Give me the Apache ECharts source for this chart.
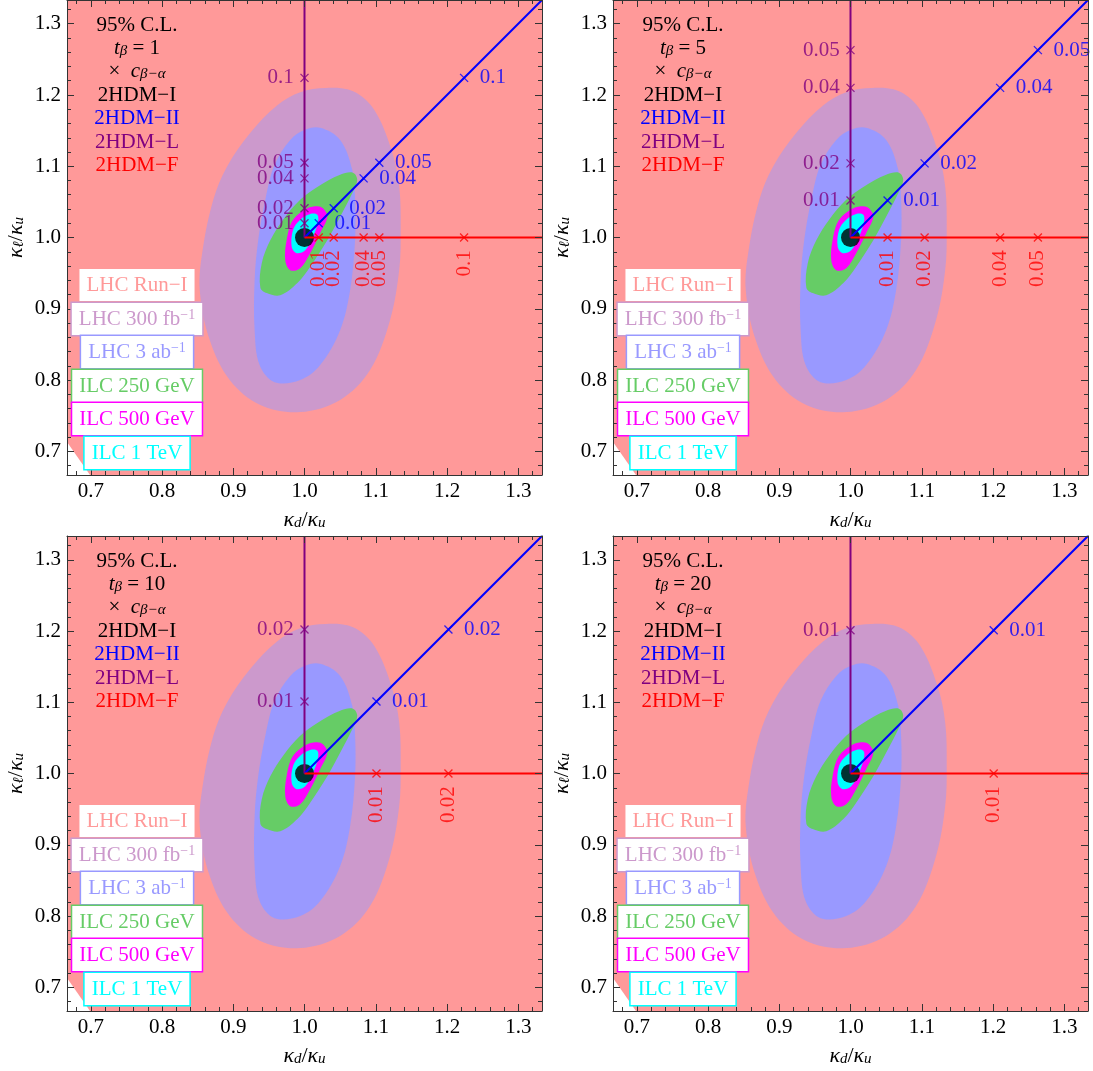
<!DOCTYPE html>
<html>
<head>
<meta charset="utf-8">
<script src="https://cdn.jsdelivr.net/npm/echarts@6/dist/echarts.min.js"></script>
<style>
html,body{margin:0;padding:0;background:#fff;}
#chart{width:1093px;height:1071px;}
</style>
</head>
<body>
<div id="chart"></div>
<script>
// ---------------- data ----------------
const tanBetaValues = [1, 5, 10, 20];

// c_{beta-alpha} marker labels and the coupling ratio read at each marker
const cLabels_tb1 = ['0.01', '0.02', '0.04', '0.05', '0.1'];
const ratios_tb1 = [1.020, 1.041, 1.083, 1.105, 1.224];
const cLabels_tb5 = ['0.01', '0.02', '0.04', '0.05'];
const ratios_tb5 = [1.052, 1.104, 1.210, 1.263];
const cLabels_tb10 = ['0.01', '0.02'];
const ratios_tb10 = [1.101, 1.202];
const cLabels_tb20 = ['0.01'];
const ratios_tb20 = [1.201];

// model lines (from the SM point)
const lineTypeL = [[1.0, 1.0], [1.0, 1.3333]];
const lineTypeII = [[1.0, 1.0], [1.3333, 1.3333]];
const lineTypeF = [[1.0, 1.0], [1.3333, 1.0]];
const smPoint = [[1.0, 1.0]];

// 95% C.L. regions (kappa_d/kappa_u, kappa_l/kappa_u)
const regionLHCRun1 = [[0.6667, 0.713], [0.6667, 1.3333], [1.3333, 1.3333], [1.3333, 0.6667], [0.699, 0.6667]];
const regionLHC300 = [[1.03, 1.21], [1.069, 1.205], [1.098, 1.179], [1.122, 1.123], [1.133, 1.071], [1.135, 1.01], [1.133, 0.955], [1.12, 0.884], [1.092, 0.814], [1.05, 0.772], [0.994, 0.755], [0.938, 0.765], [0.895, 0.80], [0.867, 0.856], [0.853, 0.926], [0.857, 0.982], [0.872, 1.053], [0.891, 1.099], [0.924, 1.147], [0.961, 1.185], [0.994, 1.204]];
const regionLHC3000 = [[1.022, 1.154], [1.05, 1.137], [1.067, 1.095], [1.071, 1.053], [1.071, 0.997], [1.064, 0.926], [1.05, 0.87], [1.022, 0.821], [0.994, 0.80], [0.958, 0.797], [0.937, 0.821], [0.93, 0.87], [0.93, 0.94], [0.935, 0.996], [0.945, 1.053], [0.958, 1.102], [0.98, 1.137], [1.0, 1.151]];
const regionILC250 = [[1.068, 1.091], [1.074, 1.081], [1.067, 1.062], [1.05, 1.029], [1.032, 0.996], [1.008, 0.959], [0.99, 0.936], [0.966, 0.919], [0.947, 0.922], [0.938, 0.93], [0.94, 0.964], [0.952, 0.996], [0.97, 1.025], [0.994, 1.053], [1.018, 1.071], [1.05, 1.088]];
const regionILC500 = [[1.026, 1.041], [1.032, 1.029], [1.022, 1.006], [1.008, 0.978], [0.994, 0.957], [0.98, 0.954], [0.973, 0.968], [0.975, 0.997], [0.984, 1.025], [1.004, 1.041], [1.018, 1.044]];
const regionILC1000 = [[1.018, 1.032], [1.019, 1.022], [1.012, 1.001], [1.001, 0.982], [0.989, 0.978], [0.982, 0.987], [0.984, 1.011], [0.994, 1.025], [1.008, 1.033]];

const legendNames = ['LHC Run\u2212I', 'LHC 300 fb{sup|\u22121}', 'LHC 3 ab{sup|\u22121}', 'ILC 250 GeV', 'ILC 500 GeV', 'ILC 1 TeV'];
const modelNames = ['2HDM\u2212I', '2HDM\u2212II', '2HDM\u2212L', '2HDM\u2212F'];

// tick labels
const majorTicks = [0.7, 0.8, 0.9, 1.0, 1.1, 1.2, 1.3];
const minorTicks = [0.68, 0.72, 0.74, 0.76, 0.78, 0.82, 0.84, 0.86, 0.88, 0.92, 0.94, 0.96, 0.98, 1.02, 1.04, 1.06, 1.08, 1.12, 1.14, 1.16, 1.18, 1.22, 1.24, 1.26, 1.28, 1.32];

// ---------------- styling / layout ----------------
const SERIF = '"Liberation Serif", "Times New Roman", serif';
const FS = 21;
const AX_MIN = 2 / 3, AX_MAX = 4 / 3;
const regionColors = ['#FF9999', '#CC99CC', '#9999FF', '#66CC66', '#FF00FF', '#00FFFF'];
const modelColors = ['#000000', '#0000FF', '#800080', '#FF0000'];
const panelOrigins = [[67, 0], [613, 0], [67, 536], [613, 536]];
const PW = 475, PH = 475;

const ratiosByPanel = [ratios_tb1, ratios_tb5, ratios_tb10, ratios_tb20];
const labelsByPanel = [cLabels_tb1, cLabels_tb5, cLabels_tb10, cLabels_tb20];
const regions = [regionLHCRun1, regionLHC300, regionLHC3000, regionILC250, regionILC500, regionILC1000];

const grids = [], xAxes = [], yAxes = [], series = [], graphics = [];
const AXC = '#333';

function mkAxis(dim, gi, pos, major, withLabel) {
  const a = {
    type: 'value', gridIndex: gi, min: AX_MIN, max: AX_MAX, position: pos, z: 6,
    axisLine: { show: major, onZero: false, lineStyle: { color: AXC, width: 1 } },
    axisTick: { show: true, inside: true, length: major ? 7 : 4, customValues: major ? majorTicks : minorTicks, lineStyle: { color: AXC, width: 1 } },
    axisLabel: { show: withLabel, customValues: majorTicks, formatter: v => v.toFixed(1), margin: 6, color: '#000', fontSize: FS, fontFamily: SERIF },
    splitLine: { show: false },
    minorTick: { show: false }
  };
  if (withLabel) {
    a.nameLocation = 'middle';
    a.nameTextStyle = {
      color: '#000', fontSize: FS, fontFamily: SERIF,
      rich: {
        k: { fontStyle: 'italic', fontSize: 22, fontFamily: SERIF, color: '#000' },
        s: { fontStyle: 'italic', fontSize: 15, fontFamily: SERIF, color: '#000', verticalAlign: 'bottom' },
        n: { fontSize: 22, fontFamily: SERIF, color: '#000' }
      }
    };
    if (dim === 'x') { a.name = '{k|\u03ba}{s|d}{n|/}{k|\u03ba}{s|u}'; a.nameGap = 34; }
    else { a.name = '{k|\u03ba}{s|\u2113}{n|/}{k|\u03ba}{s|u}'; a.nameGap = 40; a.nameRotate = 90; }
  }
  return a;
}

const xSym = 'path://M0,0L10,10M10,0L0,10';

panelOrigins.forEach(([L, T], p) => {
  grids.push({ left: L, top: T, width: PW, height: PH, show: false, containLabel: false });
  xAxes.push(mkAxis('x', p, 'bottom', true, true));
  xAxes.push(mkAxis('x', p, 'bottom', false, false));
  xAxes.push(mkAxis('x', p, 'top', true, false));
  xAxes.push(mkAxis('x', p, 'top', false, false));
  yAxes.push(mkAxis('y', p, 'left', true, true));
  yAxes.push(mkAxis('y', p, 'left', false, false));
  yAxes.push(mkAxis('y', p, 'right', true, false));
  yAxes.push(mkAxis('y', p, 'right', false, false));
  const xi = p * 4, yi = p * 4;

  regions.forEach((pts, ri) => {
    series.push({
      type: 'custom', name: legendNames[ri], xAxisIndex: xi, yAxisIndex: yi, silent: true, animation: false,
      data: [[1, 1]],
      renderItem: (params, api) => ({
        type: 'polygon',
        shape: { points: pts.map(q => api.coord(q)), smooth: ri === 0 ? 0 : 0.35 },
        style: { fill: regionColors[ri], stroke: null }
      })
    });
  });

  const lineDefs = [[lineTypeL, modelColors[2]], [lineTypeII, modelColors[1]], [lineTypeF, modelColors[3]]];
  lineDefs.forEach(([d, c]) => {
    series.push({ type: 'line', xAxisIndex: xi, yAxisIndex: yi, data: d, symbol: 'none', silent: true, animation: false,
      lineStyle: { color: c, width: 2 } });
  });

  const rs = ratiosByPanel[p], ls = labelsByPanel[p];
  const mk = (fn, color, lab) => ({
    type: 'scatter', xAxisIndex: xi, yAxisIndex: yi, silent: true, animation: false,
    symbol: xSym, symbolSize: 8,
    itemStyle: { color: 'rgba(0,0,0,0)', borderColor: color, borderWidth: 1.3 },
    label: Object.assign({ show: true, formatter: '{b}', color: color, fontSize: FS, fontFamily: SERIF }, lab),
    data: rs.map((r, i) => ({ value: fn(r), name: ls[i] }))
  });
  series.push(mk(r => [1.0, r], modelColors[2], { position: 'left', distance: 6 }));
  series.push(mk(r => [r, r], modelColors[1], { position: 'right', distance: 11 }));
  series.push(mk(r => [r, 1.0], modelColors[3], { position: 'bottom', distance: 8, rotate: 90, align: 'right', verticalAlign: 'middle' }));

  series.push({ type: 'scatter', xAxisIndex: xi, yAxisIndex: yi, silent: true, animation: false,
    symbol: 'circle', symbolSize: 19, itemStyle: { color: '#000' }, data: smPoint });

  // header text block
  const cx = L + 70;
  const richBase = {
    i: { fontStyle: 'italic', fontSize: FS, fontFamily: SERIF },
    s: { fontStyle: 'italic', fontSize: 15, fontFamily: SERIF, verticalAlign: 'bottom' }
  };
  const header = [
    ['95% C.L.', '#000', 25],
    ['{i|t}{s|\u03b2} = ' + tanBetaValues[p], '#000', 48],
    ['\u00d7  {i|c}{s|\u03b2\u2212\u03b1}', '#000', 71],
    [modelNames[0], modelColors[0], 95],
    [modelNames[1], modelColors[1], 118],
    [modelNames[2], modelColors[2], 142],
    [modelNames[3], modelColors[3], 165]
  ];
  header.forEach(([t, c, dy]) => {
    graphics.push({ type: 'text', x: cx, y: T + dy, z: 20, silent: true,
      style: { text: t, fill: c, fontSize: FS, fontFamily: SERIF, align: 'center', verticalAlign: 'middle', rich: richBase } });
  });

  // framed legend boxes
  const boxY = [285, 319, 352, 386, 419, 453];
  legendNames.forEach((t, i) => {
    graphics.push({ type: 'text', x: cx, y: T + boxY[i], z: 20, silent: true,
      style: { text: t, fill: regionColors[i], fontSize: FS, fontFamily: SERIF, lineHeight: 22,
        align: 'center', verticalAlign: 'middle',
        backgroundColor: '#fff', borderColor: regionColors[i], borderWidth: 1.5, padding: [5, 7, 5, 7],
        rich: { sup: { fontSize: 14, fontFamily: SERIF, fill: regionColors[i], verticalAlign: 'top' } } } });
  });
});

const chart = echarts.init(document.getElementById('chart'), null, { renderer: 'canvas' });
chart.setOption({
  animation: false,
  backgroundColor: '#fff',
  grid: grids,
  xAxis: xAxes,
  yAxis: yAxes,
  series: series,
  graphic: graphics
});
</script>
</body>
</html>
